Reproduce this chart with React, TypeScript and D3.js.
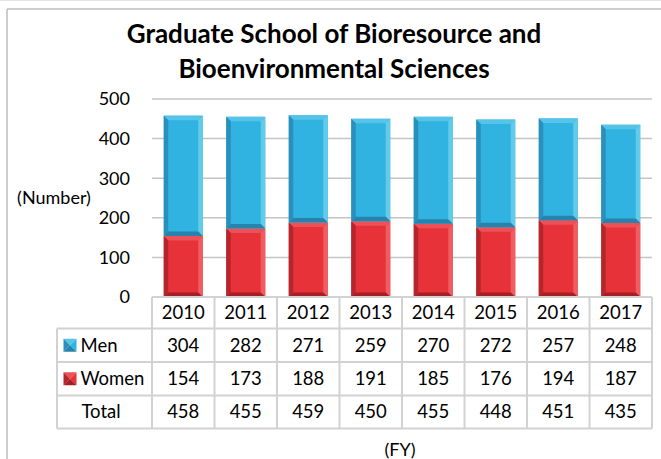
import React from "react";
import * as d3 from "d3";

const years = ["2010", "2011", "2012", "2013", "2014", "2015", "2016", "2017"];
const men = [304, 282, 271, 259, 270, 272, 257, 248];
const women = [154, 173, 188, 191, 185, 176, 194, 187];
const totals = [458, 455, 459, 450, 455, 448, 451, 435];
const yTicks = [0, 100, 200, 300, 400, 500];
const titleLines = ["Graduate School of Bioresource and", "Bioenvironmental Sciences"];

const W = 661;
const H = 459;
const FONT = "Lato, 'Open Sans', sans-serif";

const menPal = { c: "#31b3e1", l: "#2a8fba", r: "#62cbea", t: "#56c4e8", b: "#2783ab" };
const womenPal = { c: "#e8323a", l: "#b4262c", r: "#ef5c61", t: "#ed5157", b: "#a61f25" };

function Bevel({ x, y, w, h, pal }: { x: number; y: number; w: number; h: number; pal: any }) {
  const b = Math.min(4.5, h / 2);
  const x2 = x + w, y2 = y + h;
  return (
    <g>
      <rect x={x} y={y} width={w} height={h} fill={pal.c} />
      <polygon points={`${x},${y} ${x2},${y} ${x2 - b},${y + b} ${x + b},${y + b}`} fill={pal.t} />
      <polygon points={`${x},${y} ${x + b},${y + b} ${x + b},${y2 - b} ${x},${y2}`} fill={pal.l} />
      <polygon points={`${x2},${y} ${x2},${y2} ${x2 - b},${y2 - b} ${x2 - b},${y + b}`} fill={pal.r} />
      <polygon points={`${x},${y2} ${x + b},${y2 - b} ${x2 - b},${y2 - b} ${x2},${y2}`} fill={pal.b} />
    </g>
  );
}

function Key({ x, y, s, pal }: { x: number; y: number; s: number; pal: any }) {
  const cx = x + s / 2, cy = y + s / 2;
  const x2 = x + s, y2 = y + s;
  return (
    <g>
      <polygon points={`${x},${y} ${x2},${y} ${cx},${cy}`} fill={pal.t} />
      <polygon points={`${x},${y} ${cx},${cy} ${x},${y2}`} fill={pal.l} />
      <polygon points={`${x2},${y} ${x2},${y2} ${cx},${cy}`} fill={pal.c} />
      <polygon points={`${x},${y2} ${cx},${cy} ${x2},${y2}`} fill={pal.b} />
    </g>
  );
}

export default function App() {
  const plotL = 152, plotR = 652;
  const x = d3.scaleBand<string>().domain(years).range([plotL, plotR]).paddingInner(0.376).paddingOuter(0.188);
  const y = d3.scaleLinear().domain([0, 500]).range([297, 99]);
  const step = x.step();

  const rowsY = [297, 328.5, 362, 395.5, 428.5];
  const tableL = 57;
  const gridColor = "#d2d2d2";

  const rowCenters = rowsY.slice(0, -1).map((v, i) => (v + rowsY[i + 1]) / 2);

  return (
    <svg width={W} height={H} style={{ position: "absolute", left: 0, top: 0, background: "#fff" }} fontFamily={FONT}>
      <line x1={0} y1={0.5} x2={W} y2={0.5} stroke="#e4e4e4" strokeWidth={1} />
      <line x1={7} y1={9} x2={W} y2={9} stroke="#bdbdbd" strokeWidth={1.5} />
      <line x1={7} y1={9} x2={7} y2={H} stroke="#bdbdbd" strokeWidth={1.5} />

      {titleLines.map((t, i) => (
        <text key={t} x={334} y={43 + i * 35} textAnchor="middle" fontWeight="bold" fontSize={26} fill="#000">
          {t}
        </text>
      ))}

      {yTicks.map((t) => (
        <g key={t}>
          {t > 0 && <line x1={plotL} x2={plotR} y1={y(t)} y2={y(t)} stroke="#c4c4c4" strokeWidth={1.5} />}
          <text x={130} y={y(t)} dy="0.35em" textAnchor="end" fontSize={18} fill="#000">
            {t}
          </text>
        </g>
      ))}
      <text x={54} y={198} dy="0.35em" textAnchor="middle" fontSize={18} fill="#000">
        (Number)
      </text>

      {years.map((yr, i) => {
        const bx = x(yr)!;
        const bw = x.bandwidth();
        const yW = y(women[i]);
        const yM = y(women[i] + men[i]);
        return (
          <g key={yr}>
            <Bevel x={bx} y={yW} w={bw} h={y(0) - yW} pal={womenPal} />
            <Bevel x={bx} y={yM} w={bw} h={yW - yM} pal={menPal} />
          </g>
        );
      })}

      {/* table grid */}
      <g stroke={gridColor} strokeWidth={2}>
        <line x1={plotL} x2={plotR} y1={rowsY[0]} y2={rowsY[0]} />
        {rowsY.slice(1).map((ry) => (
          <line key={ry} x1={tableL} x2={plotR} y1={ry} y2={ry} />
        ))}
        <line x1={tableL} x2={tableL} y1={rowsY[1]} y2={rowsY[4]} />
        {years.map((yr) => (
          <line key={yr} x1={x(yr)! - (step - x.bandwidth()) / 2} x2={x(yr)! - (step - x.bandwidth()) / 2} y1={rowsY[0]} y2={rowsY[4]} />
        ))}
        <line x1={plotR} x2={plotR} y1={rowsY[0]} y2={rowsY[4]} />
      </g>

      {years.map((yr, i) => {
        const cx = x(yr)! + x.bandwidth() / 2;
        return (
          <g key={yr} fontSize={18.5} textAnchor="middle" fill="#000">
            <text x={cx} y={rowCenters[0]} dy="0.35em">{yr}</text>
            <text x={cx} y={rowCenters[1]} dy="0.35em">{men[i]}</text>
            <text x={cx} y={rowCenters[2]} dy="0.35em">{women[i]}</text>
            <text x={cx} y={rowCenters[3]} dy="0.35em">{totals[i]}</text>
          </g>
        );
      })}

      {/* legend keys */}
      <Key x={63.5} y={rowCenters[1] - 6.5} s={13} pal={menPal} />
      <Key x={63.5} y={rowCenters[2] - 6.5} s={13} pal={womenPal} />
      <text x={80.5} y={rowCenters[1]} dy="0.35em" fontSize={18.5}>Men</text>
      <text x={80.5} y={rowCenters[2]} dy="0.35em" fontSize={18.5}>Women</text>
      <text x={101} y={rowCenters[3]} dy="0.35em" fontSize={18.5} textAnchor="middle">Total</text>

      <text x={400} y={456} fontSize={18} textAnchor="middle">(FY)</text>
    </svg>
  );
}
